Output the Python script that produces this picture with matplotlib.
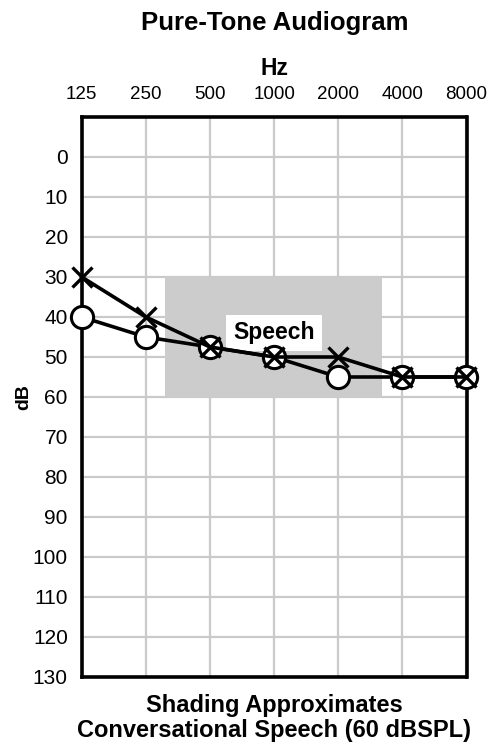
import matplotlib
matplotlib.use("Agg")
import matplotlib.pyplot as plt
from matplotlib.patches import Rectangle

plt.rcParams['font.family'] = ['Liberation Sans', 'DejaVu Sans']

freqs = ['125', '250', '500', '1000', '2000', '4000', '8000']
db_ticks = [0, 10, 20, 30, 40, 50, 60, 70, 80, 90, 100, 110, 120, 130]
left_x = [30, 40, 47.5, 50, 50, 55, 55]
right_o = [40, 45, 47.5, 50, 55, 55, 55]
speech_band = (1.30, 4.69, 30, 60)  # x0, x1 (freq index), dB top, dB bottom

W, H = 501, 745
fig = plt.figure(figsize=(W / 100, H / 100), dpi=100)
ax = fig.add_axes([81.7 / W, 1 - 677 / H, (466.5 - 81.7) / W, (677 - 117) / H])

xs = list(range(len(freqs)))
ax.set_xlim(0, len(freqs) - 1)
ax.set_ylim(130, -10)

ax.set_xticks(xs)
ax.set_xticklabels(freqs)
ax.set_yticks(db_ticks)
ax.xaxis.tick_top()
ax.tick_params(axis='x', length=0, labelsize=13.5, pad=10)
ax.tick_params(axis='y', length=0, labelsize=15, pad=10)

ax.grid(True, color='#cacaca', lw=1.6)
ax.set_axisbelow(True)

for s in ax.spines.values():
    s.set_linewidth(2.6)
    s.set_color('black')

x0, x1, ytop, ybot = speech_band
ax.add_patch(Rectangle((x0, ytop), x1 - x0, ybot - ytop, facecolor='#cccccc',
                       edgecolor='none', zorder=1))
ax.text(3, 44, 'Speech', ha='center', va='center', fontsize=16.5,
        fontweight='bold', zorder=3,
        bbox=dict(boxstyle='square,pad=0.3', facecolor='white', edgecolor='none'))

ax.plot(xs, right_o, color='black', lw=2.6, marker='o', ms=16,
        mfc='white', mec='black', mew=2.2, clip_on=False, zorder=4)
ax.plot(xs, left_x, color='black', lw=2.6, marker='x', ms=15,
        mew=2.4, clip_on=False, zorder=5)

ax.set_ylabel('dB', fontsize=14, fontweight='bold', labelpad=0)

fig.text(275 / W, 1 - 75 / H, 'Hz', ha='center', va='baseline',
         fontsize=16.5, fontweight='bold')
fig.text(275 / W, 1 - 30 / H, 'Pure-Tone Audiogram', ha='center',
         va='baseline', fontsize=18.5, fontweight='bold')
fig.text(274 / W, 1 - 712 / H, 'Shading Approximates', ha='center',
         va='baseline', fontsize=17, fontweight='bold')
fig.text(274 / W, 1 - 737 / H, 'Conversational Speech (60 dBSPL)',
         ha='center', va='baseline', fontsize=17, fontweight='bold')

fig.savefig('out.png', dpi=100)
